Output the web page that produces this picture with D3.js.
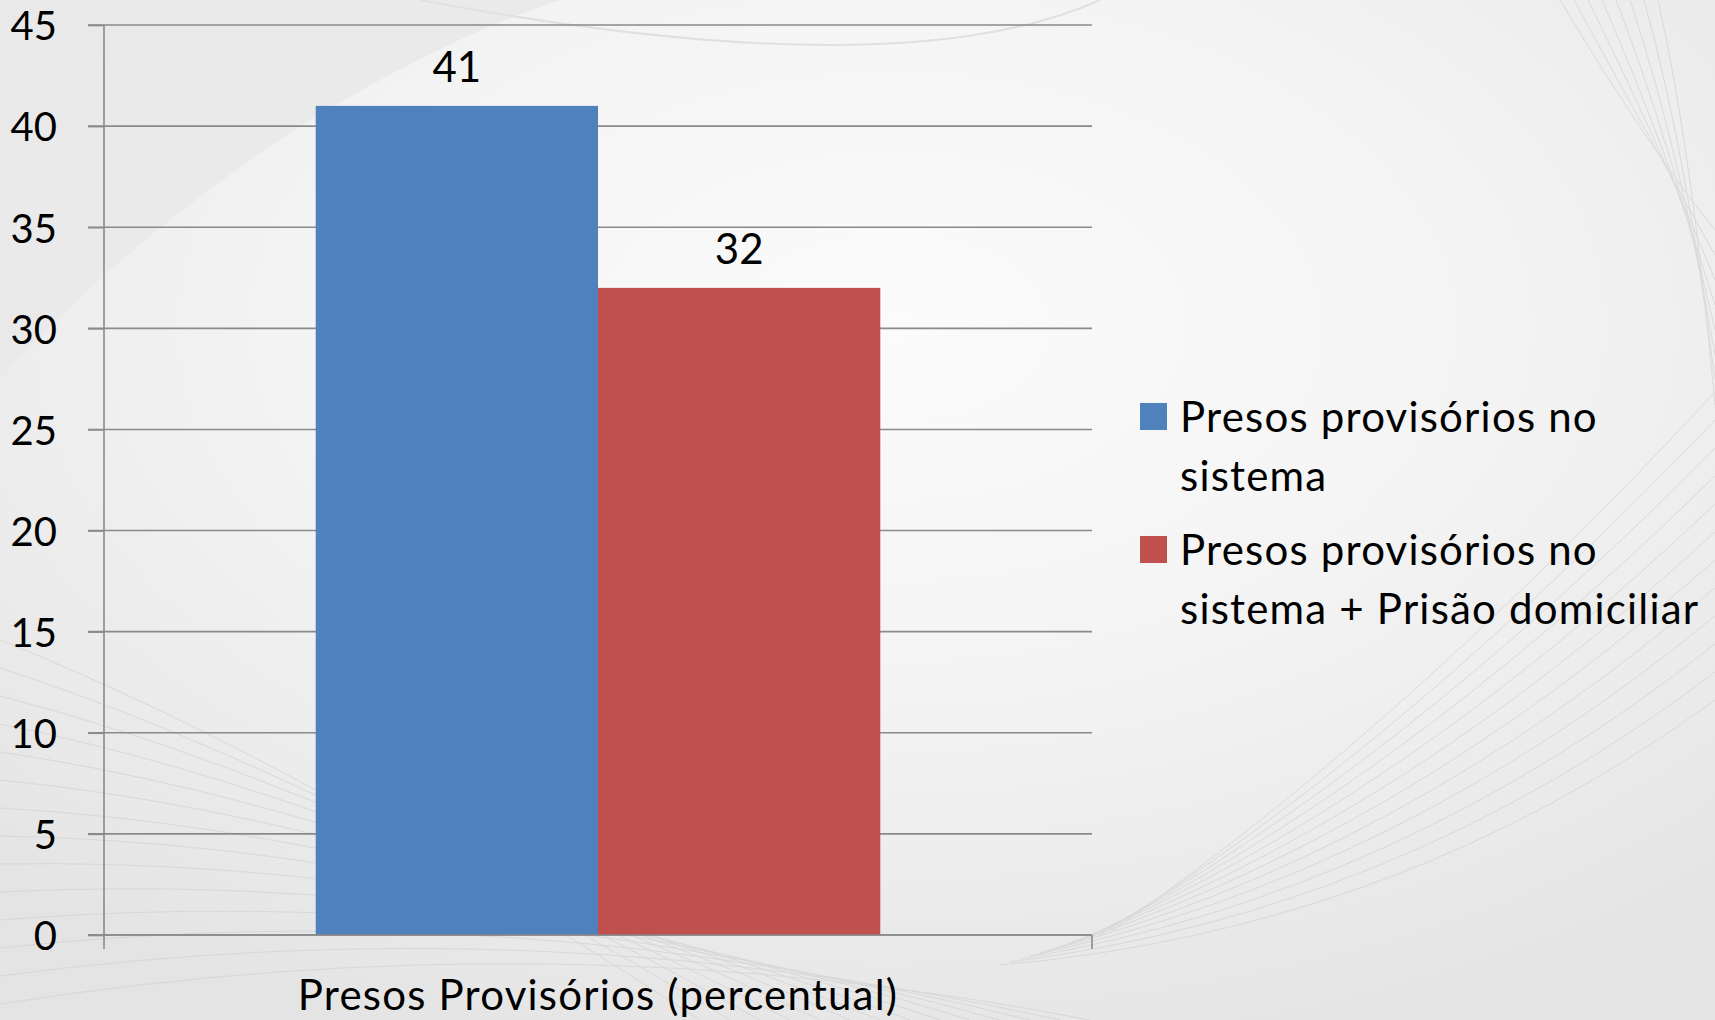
<!DOCTYPE html>
<html>
<head>
<meta charset="utf-8">
<script src="https://cdn.jsdelivr.net/npm/d3@7"></script>
<style>
  html, body { margin: 0; padding: 0; background: #ececec; }
  svg { display: block; }
  text { font-family: Lato, "Open Sans", sans-serif; fill: #000; }
</style>
</head>
<body>
<svg id="chart" width="1715" height="1020"></svg>
<script>
// ---- data ----
const categories = ["Presos Provisórios (percentual)"];
const seriesNames = ["Presos provisórios no sistema", "Presos provisórios no sistema + Prisão domiciliar"];
const seriesValues = [41, 32];
const seriesColors = ["#4F81BD", "#C0504D"];
const yTicks = [0, 5, 10, 15, 20, 25, 30, 35, 40, 45];
const legendLines = [["Presos provisórios no", "sistema"], ["Presos provisórios no", "sistema + Prisão domiciliar"]];

const svg = d3.select("#chart");
const W = 1715, H = 1020;

// ---- background ----
const defs = svg.append("defs");
const rg = defs.append("radialGradient").attr("id", "bg")
  .attr("cx", 0.52).attr("cy", 0.32).attr("r", 0.75);
rg.append("stop").attr("offset", "0%").attr("stop-color", "#fbfbfb");
rg.append("stop").attr("offset", "45%").attr("stop-color", "#f4f4f4");
rg.append("stop").attr("offset", "100%").attr("stop-color", "#e4e4e4");
svg.append("rect").attr("width", W).attr("height", H).attr("fill", "url(#bg)");
svg.append("path")
  .attr("d", "M0,0 L560,0 C380,60 160,200 0,380 Z")
  .attr("fill", "#e9e9e9").attr("opacity", 0.9);
const deco = svg.append("g").attr("fill", "none").attr("stroke", "#d2d2d2").attr("stroke-width", 1).attr("opacity", 0.7);
for (let i = 0; i < 14; i++) {
  deco.append("path").attr("d", `M0,${640 + i * 28} Q${300 + i * 20},${760 + i * 12} ${700 + i * 30},1020`);
}
for (let i = 0; i < 12; i++) {
  deco.append("path").attr("d", `M${1000 + i * 10},${965 - i * 3} Q1400,${930 - i * 18} 1715,${700 - i * 28}`);
}
for (let i = 0; i < 8; i++) {
  deco.append("path").attr("d", `M${1560 + i * 14},0 Q${1650 + i * 6},150 1715,${230 + i * 25}`);
}
svg.append("path").attr("d", "M420,0 Q900,90 1100,0").attr("fill", "none").attr("stroke", "#e0e0e0").attr("stroke-width", 2);

// ---- scales ----
const plotLeft = 104, plotRight = 1092, plotTop = 25, plotBottom = 935;
const y = d3.scaleLinear().domain([0, 45]).range([plotBottom, plotTop]);
const x0 = d3.scaleBand().domain(categories).range([plotLeft, plotRight]).paddingInner(0).paddingOuter(0);
const x1 = d3.scaleBand().domain(seriesNames).range([0, x0.bandwidth()]).paddingInner(0).paddingOuter(0.75);

const FS = "42px", LS = "1.2px";

// gridlines
const grid = svg.append("g");
grid.selectAll("line").data(yTicks).join("line")
  .attr("x1", plotLeft - 16).attr("x2", plotRight)
  .attr("y1", d => y(d)).attr("y2", d => y(d))
  .attr("stroke", "#8a8a8a").attr("stroke-width", 1.6);

// y axis
const yAxis = d3.axisLeft(y).tickValues(yTicks).tickSize(16).tickPadding(31).tickSizeOuter(0);
const ya = svg.append("g").attr("transform", `translate(${plotLeft},0)`).call(yAxis);
ya.select(".domain").remove();
ya.selectAll(".tick line").attr("stroke", "#8a8a8a").attr("stroke-width", 1.6);
ya.selectAll(".tick text").style("font-size", "40px").style("font-family", "Lato, sans-serif")
  .attr("dy", "0.37em").attr("fill", "#000");
svg.append("line").attr("x1", plotLeft).attr("x2", plotLeft).attr("y1", plotTop).attr("y2", plotBottom + 14)
  .attr("stroke", "#8a8a8a").attr("stroke-width", 1.6);
svg.append("line").attr("x1", plotRight).attr("x2", plotRight).attr("y1", plotBottom).attr("y2", plotBottom + 14)
  .attr("stroke", "#8a8a8a").attr("stroke-width", 1.6);

// bars
const data = seriesNames.map((s, i) => ({ cat: categories[0], name: s, value: seriesValues[i], color: seriesColors[i] }));
const bars = svg.append("g");
bars.selectAll("rect").data(data).join("rect")
  .attr("x", d => x0(d.cat) + x1(d.name))
  .attr("y", d => y(d.value))
  .attr("width", x1.bandwidth())
  .attr("height", d => y(0) - y(d.value))
  .attr("fill", d => d.color);

// value labels
bars.selectAll("text").data(data).join("text")
  .attr("x", d => x0(d.cat) + x1(d.name) + x1.bandwidth() / 2)
  .attr("y", d => y(d.value) - 24)
  .attr("text-anchor", "middle")
  .style("font-size", FS)
  .text(d => d.value);

// x axis baseline
svg.append("line").attr("x1", plotLeft - 16).attr("x2", plotRight).attr("y1", y(0)).attr("y2", y(0))
  .attr("stroke", "#8a8a8a").attr("stroke-width", 1.6);

// category label
svg.append("g").selectAll("text").data(categories).join("text")
  .attr("x", d => x0(d) + x0.bandwidth() / 2)
  .attr("y", 1010)
  .attr("text-anchor", "middle")
  .style("font-size", FS).style("letter-spacing", LS)
  .text(d => d);

// legend
const legend = svg.append("g");
const legendTop = [403, 536];
seriesNames.forEach((s, i) => {
  const g = legend.append("g");
  g.append("rect").attr("x", 1140).attr("y", legendTop[i]).attr("width", 27).attr("height", 27).attr("fill", seriesColors[i]);
  legendLines[i].forEach((ln, j) => {
    g.append("text").attr("x", 1180).attr("y", legendTop[i] + 29 + j * 59)
      .style("font-size", FS).style("letter-spacing", LS).text(ln);
  });
});
</script>
</body>
</html>
